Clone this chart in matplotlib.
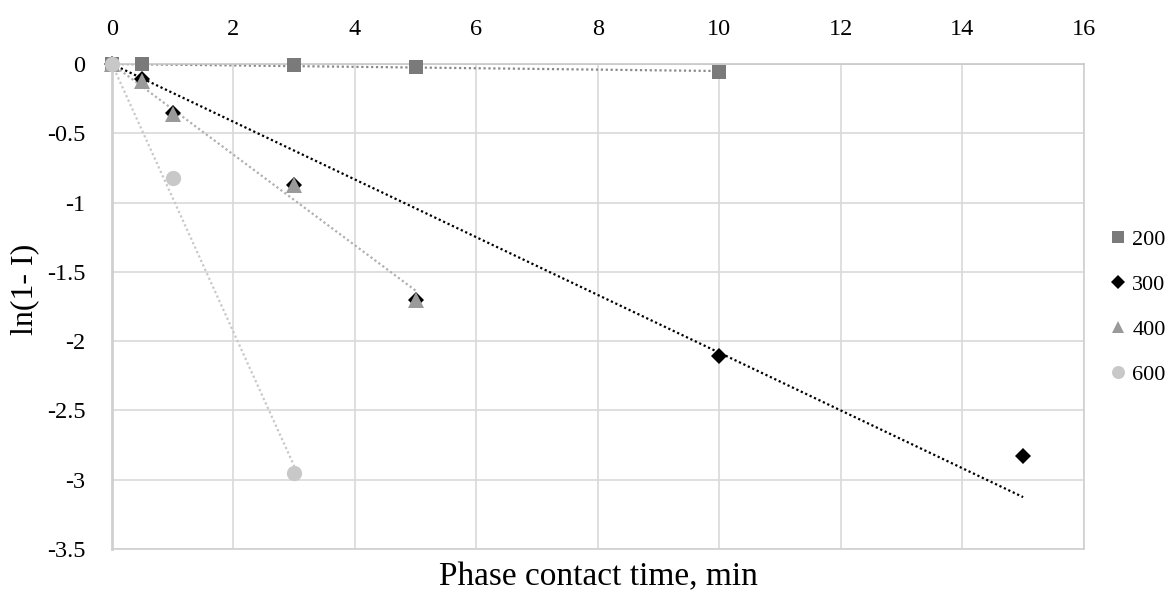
import numpy as np
import matplotlib.pyplot as plt

plt.rcParams['font.family'] = ['Liberation Serif', 'DejaVu Serif']

# contact time (min) and ln(1-I) for each series
x_200 = [0, 0.5, 3, 5, 10]
y_200 = [0, 0, -0.01, -0.02, -0.055]

x_300 = [0, 0.5, 1, 3, 5, 10, 15]
y_300 = [0, -0.11, -0.35, -0.87, -1.7, -2.11, -2.83]

x_400 = [0, 0.5, 1, 3, 5]
y_400 = [0, -0.12, -0.36, -0.87, -1.7]

x_600 = [0, 1, 3]
y_600 = [0, -0.82, -2.95]

labels = ['200', '300', '400', '600']

fig = plt.figure(figsize=(11.71, 5.9), dpi=100)
ax = fig.add_axes([0.0956, 0.0695, 0.8300, 0.822])

series = [
    (x_200, y_200, 's', '#7a7a7a', '#8a8a8a', 10),
    (x_300, y_300, 'D', '#000000', '#000000', 8.5),
    (x_400, y_400, '^', '#9a9a9a', '#b0b0b0', 11),
    (x_600, y_600, 'o', '#c8c8c8', '#c8c8c8', 11),
]

for (xs, ys, mk, col, lcol, ms), lab in zip(series, labels):
    xs = np.array(xs, dtype=float)
    ys = np.array(ys, dtype=float)
    # linear trend forced through the origin
    k = np.sum(xs * ys) / np.sum(xs * xs)
    xt = np.array([0, xs.max()])
    ax.plot(xt, k * xt, ls=(0, (1, 1.2)), color=lcol, lw=1.6, zorder=2)
    ax.plot(xs, ys, ls='none', marker=mk, color=col, ms=ms, label=lab,
            zorder=3, markeredgewidth=0, clip_on=False)

ax.set_xlim(0, 16)
ax.set_ylim(-3.5, 0)
ax.set_xticks(np.arange(0, 17, 2))
ax.set_yticks(np.arange(-3.5, 0.01, 0.5))
ax.set_yticklabels(['-3.5', '-3', '-2.5', '-2', '-1.5', '-1', '-0.5', '0'])
ax.xaxis.tick_top()
ax.tick_params(axis='x', length=0, pad=17, labelsize=17.5)
ax.tick_params(axis='y', length=0, pad=19, labelsize=17.5)
ax.grid(True, color='#d9d9d9', lw=1.2)
ax.set_axisbelow(True)
for s in ['left', 'bottom', 'right']:
    ax.spines[s].set_color('#d0d0d0')
    ax.spines[s].set_linewidth(1.2)
ax.spines['top'].set_color('#c8c8c8')
ax.spines['top'].set_linewidth(1.2)
ax.spines['left'].set_linewidth(2)

fig.text(0.511, 0.008, 'Phase contact time, min', fontsize=24,
         ha='center', va='baseline')
fig.text(0.021, 1 - 289 / 590, 'ln(1- I)', fontsize=23, rotation=90,
         ha='center', va='center')

ax.legend(loc='center left', bbox_to_anchor=(0.9488, 0.479),
          bbox_transform=fig.transFigure, frameon=False, borderpad=0,
          borderaxespad=0, fontsize=16, handlelength=0.6,
          handletextpad=0.35, labelspacing=1.1, markerscale=0.85)

fig.savefig('out.png', dpi=100)
